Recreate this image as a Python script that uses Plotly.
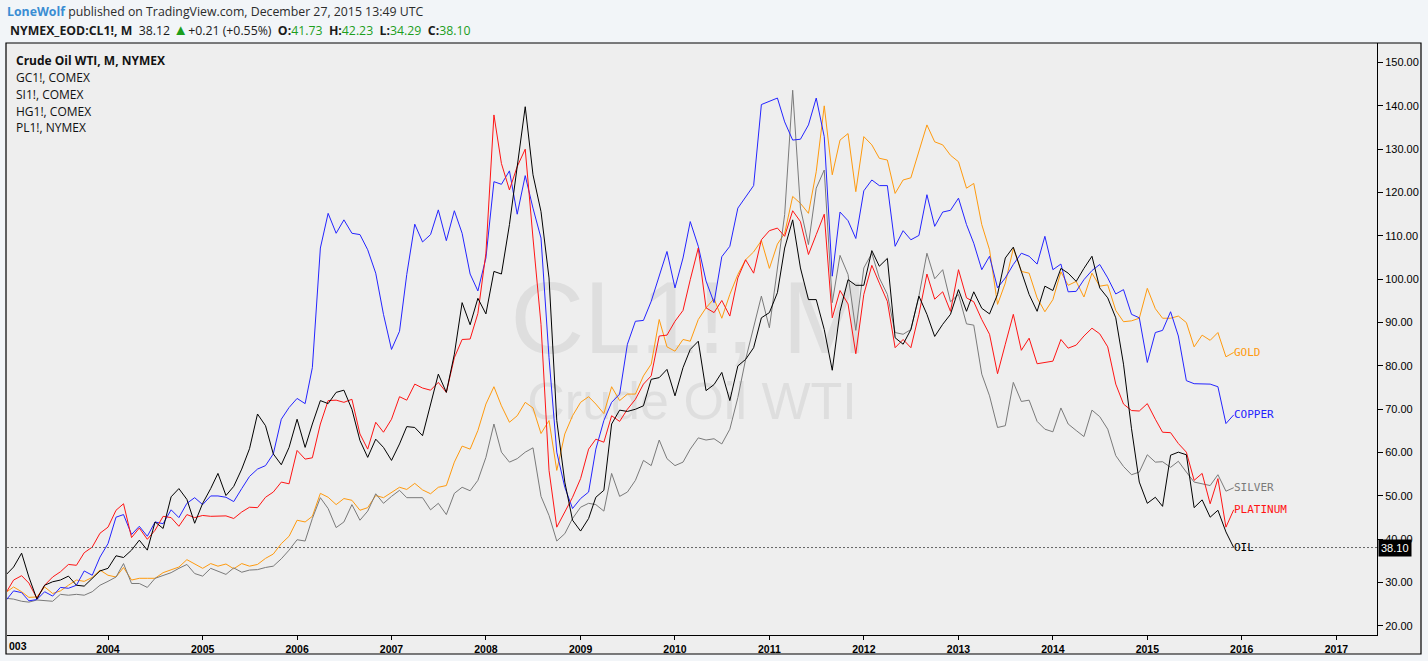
import pandas as pd
import plotly.graph_objects as go

months = pd.date_range("2002-12-01", "2015-12-01", freq="MS")

oil = [31.7,
       33.6, 36.8, 31.3, 26.2, 29.4, 30.2, 30.6, 31.5, 29.4, 29.2, 31.0, 32.7,
       33.3, 36.2, 35.8, 37.5, 39.8, 37.5, 44.0, 42.5, 49.8, 51.7, 49.2, 43.7,
       48.3, 51.7, 55.2, 50.1, 52.2, 56.2, 60.9, 68.9, 66.2, 59.7, 57.2, 61.2,
       67.7, 61.2, 66.6, 72.0, 71.3, 73.9, 74.4, 70.0, 62.8, 58.9, 63.1, 61.2,
       58.2, 62.0, 66.0, 65.8, 63.9, 70.8, 78.1, 73.9, 82.7, 94.6, 89.5, 95.6,
       92.0, 101.8, 101.2, 112.6, 126.4, 139.8, 124.1, 115.6, 100.3, 67.4, 53.2, 44.4,
       41.9, 44.8, 49.7, 51.3, 66.6, 69.8, 69.5, 70.0, 70.8, 76.9, 77.3, 79.2,
       73.1, 79.6, 83.8, 85.7, 74.3, 75.7, 78.5, 72.0, 80.0, 81.5, 84.2, 91.1,
       92.3, 96.9, 107.2, 113.7, 102.6, 95.3, 95.3, 88.4, 79.0, 92.6, 99.9, 98.6,
       98.6, 106.6, 103.0, 104.8, 86.5, 85.0, 88.4, 96.1, 91.9, 86.8, 89.6, 91.9,
       97.6, 92.6, 97.1, 93.3, 92.0, 96.5, 104.9, 107.4, 101.8, 96.5, 92.6, 98.4,
       97.4, 102.5, 101.4, 99.5, 102.5, 105.3, 98.0, 95.7, 91.1, 80.4, 65.5, 53.2,
       48.3, 49.7, 47.6, 59.4, 60.1, 59.5, 47.3, 49.1, 45.1, 46.7, 41.7, 38.1]

platinum = [27.5,
            30.6, 31.6, 29.9, 26.4, 29.4, 31.3, 32.5, 34.2, 34.0, 36.9, 38.2, 41.4,
            42.8, 46.7, 48.2, 40.4, 42.6, 40.0, 42.1, 45.3, 45.0, 43.0, 45.7, 45.0,
            45.5, 45.3, 45.4, 45.4, 44.8, 46.3, 47.4, 47.3, 49.7, 50.9, 53.2, 52.8,
            60.5, 58.5, 58.8, 66.6, 72.0, 72.1, 71.6, 72.3, 64.3, 60.8, 67.0, 64.7,
            67.7, 72.9, 72.1, 75.8, 74.9, 74.4, 76.2, 73.9, 81.9, 86.1, 86.2, 92.1,
            106.0, 137.9, 126.7, 120.6, 126.0, 130.0, 109.5, 89.6, 55.9, 42.8, 46.3, 49.7,
            54.0, 60.8, 63.1, 62.4, 68.5, 67.2, 70.0, 72.3, 75.8, 77.7, 86.9, 87.1,
            90.3, 92.8, 99.9, 107.2, 93.4, 92.3, 95.1, 91.5, 100.3, 104.5, 101.4, 109.1,
            111.2, 111.8, 109.9, 115.8, 113.3, 105.7, 110.3, 115.0, 91.1, 97.4, 94.3, 82.8,
            96.5, 103.2, 99.1, 94.9, 84.2, 86.1, 84.2, 91.9, 101.2, 95.4, 97.1, 92.6,
            102.2, 95.7, 94.8, 90.7, 87.3, 78.2, 85.0, 91.9, 83.6, 86.4, 80.5, 80.8,
            81.1, 86.1, 84.1, 84.8, 86.9, 88.7, 87.4, 84.4, 75.8, 71.2, 69.7, 69.6,
            71.3, 67.7, 64.7, 64.6, 62.1, 60.1, 53.6, 55.2, 48.2, 54.0, 42.8, 46.8]

copper = [25.8,
          28.1, 27.7, 25.8, 26.1, 27.9, 26.9, 28.9, 28.7, 29.4, 32.7, 31.7, 35.9,
          39.0, 45.1, 45.7, 41.1, 43.0, 40.7, 44.0, 43.6, 46.8, 45.0, 48.3, 49.6,
          48.0, 50.0, 50.0, 49.7, 48.7, 51.7, 54.5, 56.2, 57.0, 59.7, 67.7, 70.4,
          72.5, 71.3, 79.6, 107.2, 115.2, 110.6, 113.7, 110.6, 110.3, 106.8, 101.4, 91.9,
          83.8, 88.0, 101.1, 112.7, 108.6, 110.3, 116.0, 108.9, 115.8, 110.6, 101.2, 97.3,
          104.9, 122.5, 121.9, 125.0, 115.0, 123.9, 116.4, 109.5, 81.9, 60.1, 52.0, 47.1,
          49.4, 50.9, 60.8, 67.4, 71.6, 73.5, 85.0, 90.3, 90.5, 94.9, 100.7, 106.4,
          98.0, 104.9, 113.3, 107.6, 99.6, 94.6, 105.2, 107.6, 116.4, 118.9, 121.6, 140.3,
          141.1, 141.8, 136.3, 132.1, 132.3, 135.6, 141.8, 132.9, 100.7, 115.5, 113.5, 109.4,
          120.4, 122.9, 121.6, 121.6, 107.6, 111.2, 109.1, 110.1, 119.5, 112.2, 115.5, 115.9,
          118.7, 112.6, 108.3, 102.2, 105.3, 98.0, 100.3, 103.4, 106.0, 105.3, 103.5, 109.9,
          102.2, 103.5, 97.1, 97.2, 99.9, 102.0, 103.4, 100.3, 96.6, 97.6, 91.9, 91.1,
          80.8, 87.7, 88.2, 92.5, 86.9, 76.6, 75.9, 75.8, 75.8, 75.2, 66.7, 68.7]

gold = [27.7,
        29.0, 27.9, 26.6, 26.7, 29.0, 27.5, 28.1, 29.4, 30.6, 30.3, 31.2, 32.9,
        31.7, 31.3, 33.5, 30.6, 31.0, 31.0, 31.0, 32.3, 33.0, 33.6, 35.3, 34.4,
        33.3, 34.4, 33.8, 34.3, 33.2, 34.4, 33.8, 34.2, 35.6, 36.6, 39.0, 40.7,
        44.4, 44.0, 45.3, 50.6, 49.7, 48.0, 49.4, 49.0, 46.7, 47.3, 50.1, 49.6,
        50.9, 52.0, 51.5, 52.9, 51.4, 50.5, 52.0, 52.4, 57.8, 61.5, 60.8, 65.1,
        71.2, 75.2, 70.8, 67.0, 68.5, 71.6, 70.3, 64.4, 67.4, 55.9, 64.3, 68.5,
        71.6, 72.9, 71.2, 69.0, 75.2, 72.0, 73.5, 73.5, 77.7, 80.4, 90.7, 84.4,
        83.4, 86.1, 85.7, 90.7, 93.4, 95.5, 91.0, 96.5, 101.1, 104.5, 106.3, 108.9,
        102.5, 108.1, 110.6, 119.1, 117.5, 115.2, 124.8, 140.0, 124.1, 132.1, 133.6, 120.2,
        132.9, 131.0, 127.9, 127.5, 119.8, 122.9, 123.4, 129.4, 135.6, 131.7, 131.0, 128.6,
        127.1, 121.0, 122.1, 112.6, 106.8, 94.2, 99.1, 107.1, 101.8, 101.4, 95.7, 92.5,
        95.3, 101.7, 98.6, 99.5, 95.9, 101.4, 98.4, 98.7, 92.8, 90.2, 90.4, 91.0,
        97.9, 93.2, 91.0, 91.0, 91.5, 90.0, 84.4, 87.1, 85.9, 87.7, 82.1, 83.1]

silver = [26.4,
          26.2, 25.7, 25.5, 26.0, 25.8, 25.7, 27.3, 27.1, 27.3, 27.1, 27.9, 29.4,
          30.3, 31.3, 34.4, 29.8, 29.8, 28.9, 31.0, 31.7, 32.3, 33.3, 34.2, 32.1,
          31.5, 33.3, 32.7, 31.9, 33.4, 32.4, 32.9, 33.0, 33.5, 33.8, 35.5, 37.5,
          39.9, 39.6, 44.8, 49.6, 47.1, 42.7, 44.0, 48.0, 44.4, 46.5, 50.5, 48.3,
          49.9, 51.3, 49.6, 49.6, 49.6, 46.8, 48.3, 45.7, 50.6, 52.0, 51.2, 53.6,
          58.9, 66.6, 60.1, 57.8, 58.6, 60.1, 61.1, 49.9, 45.5, 39.6, 41.3, 44.8,
          47.4, 48.3, 48.0, 46.5, 55.2, 49.9, 50.9, 53.6, 58.2, 57.0, 62.9, 58.6,
          57.0, 57.8, 60.8, 63.4, 62.9, 63.2, 62.0, 65.4, 72.7, 81.5, 89.2, 96.1,
          88.8, 103.0, 114.9, 143.6, 116.4, 108.0, 121.0, 125.2, 94.6, 105.5, 101.1, 88.2,
          102.6, 106.0, 100.3, 96.5, 87.7, 87.3, 88.4, 96.1, 106.0, 100.1, 102.2, 94.8,
          96.5, 89.7, 89.4, 78.1, 73.1, 65.8, 66.2, 76.2, 71.8, 72.1, 67.2, 65.4,
          64.8, 70.3, 66.6, 65.1, 63.7, 69.8, 68.3, 65.4, 59.3, 56.8, 54.9, 55.5,
          59.5, 57.8, 57.9, 56.6, 58.0, 55.5, 53.2, 52.8, 52.4, 54.9, 51.1, 51.9]

names = ["GOLD", "SILVER", "COPPER", "PLATINUM", "OIL"]
values = [gold, silver, copper, platinum, oil]
colors = ["#ff9a0e", "#7a7a7a", "#2424ff", "#ff1414", "#000000"]

price_ticks = [20, 30, 40, 50, 60, 70, 80, 90, 100, 110, 120, 130, 140, 150]
year_labels = ["2003", "2004", "2005", "2006", "2007", "2008", "2009", "2010",
               "2011", "2012", "2013", "2014", "2015", "2016", "2017"]
legend_lines = ["Crude Oil WTI, M, NYMEX", "GC1!, COMEX", "SI1!, COMEX",
                "HG1!, COMEX", "PL1!, NYMEX"]
last_price = 38.10

# page geometry (pixels) of the plot box
W, H = 1428, 661
L, R, T, B = 7, 1377, 43, 635


def px(x):
    return (x - L) / (R - L)


def py(y):
    return (B - y) / (B - T)


fig = go.Figure()

for name, vals, col in zip(names, values, colors):
    fig.add_trace(go.Scatter(x=months, y=vals, mode="lines", name=name,
                             line=dict(color=col, width=1), showlegend=False))
    fig.add_annotation(x=months[-1], y=vals[-1], text=name, showarrow=False,
                       xanchor="left", yanchor="middle", xshift=-2,
                       font=dict(family="DejaVu Sans Mono", size=11, color=col))

# frame, watermark and the last price line
fig.add_shape(type="rect", xref="paper", yref="paper", layer="below",
              x0=px(6), x1=px(1421), y0=py(654), y1=py(43),
              fillcolor="#eeeeee", line=dict(color="black", width=1.2))
fig.add_shape(type="rect", xref="paper", yref="paper", layer="below",
              x0=px(439), x1=px(939), y0=py(358), y1=py(258),
              line=dict(width=0), fillcolor="rgba(0,0,0,0)",
              label=dict(text="CL1!, M", textposition="middle center",
                         font=dict(family="Liberation Sans", size=102, color="#dedede")))
fig.add_shape(type="rect", xref="paper", yref="paper", layer="below",
              x0=px(442), x1=px(942), y0=py(426), y1=py(366),
              line=dict(width=0), fillcolor="rgba(0,0,0,0)",
              label=dict(text="Crude Oil WTI", textposition="middle center",
                         font=dict(family="Liberation Sans", size=52, color="#dedede")))
fig.add_shape(type="line", xref="paper", yref="y", x0=0, x1=1,
              y0=last_price, y1=last_price,
              line=dict(color="#666666", width=1, dash="2px,2px"))

# header lines
fig.add_annotation(xref="paper", yref="paper", x=px(5), y=py(12),
                   xanchor="left", yanchor="middle", showarrow=False,
                   text="<span style='color:#3a8dd3'><b>LoneWolf</b></span> published on "
                        "TradingView.com, December 27, 2015 13:49 UTC",
                   font=dict(family="Open Sans", size=12.3, color="#2b2b2b"))
green = "#1c9e1c"
fig.add_annotation(xref="paper", yref="paper", x=px(8), y=py(29),
                   xanchor="left", yanchor="middle", showarrow=False,
                   text=f"<b>NYMEX_EOD:CL1!, M</b>  38.12 "
                        f"<span style='color:{green};font-size:15px'>▲</span>"
                        f"+0.21 (+0.55%)  <b>O:</b><span style='color:{green}'>41.73</span>  "
                        f"<b>H:</b><span style='color:{green}'>42.23</span>  "
                        f"<b>L:</b><span style='color:{green}'>34.29</span>  "
                        f"<b>C:</b><span style='color:{green}'>38.10</span>",
                   font=dict(family="Open Sans", size=12.3, color="#1a1a1a"))

for k, line in enumerate(legend_lines):
    fig.add_annotation(xref="paper", yref="paper", x=px(14), y=py(61 + 16.7 * k),
                       xanchor="left", yanchor="middle", showarrow=False,
                       text=f"<b>{line}</b>" if k == 0 else line,
                       font=dict(family="Open Sans", size=12, color="#111111"))

# clipped first year label and the last price tag
fig.add_annotation(xref="paper", yref="paper", x=px(7), y=py(646),
                   xanchor="left", yanchor="middle", showarrow=False,
                   text=year_labels[0][1:],
                   font=dict(family="Liberation Sans", size=10.5, color="black", weight="bold"))
fig.add_annotation(xref="paper", yref="y", x=px(1378), y=last_price,
                   xanchor="left", yanchor="middle", showarrow=False,
                   text=f"{last_price:.2f}", bgcolor="black", borderpad=2,
                   font=dict(family="Liberation Sans", size=11, color="white"))

fig.update_layout(
    width=W, height=H,
    margin=dict(l=L, r=W - R, t=T, b=H - B, pad=0, autoexpand=False),
    paper_bgcolor="#f2f5f8", plot_bgcolor="rgba(0,0,0,0)",
    showlegend=False, hovermode=False,
    xaxis=dict(type="date", range=["2002-12-06 12:00", "2017-06-07"],
               showgrid=False, zeroline=False, showline=True, linecolor="black",
               linewidth=1, ticks="outside", ticklen=4, tickcolor="black",
               tickvals=[f"{y}-01-01" for y in year_labels[1:]],
               ticktext=year_labels[1:],
               tickfont=dict(family="Liberation Sans", size=10.5, color="black", weight="bold")),
    yaxis=dict(side="right", range=[17.92, 154.5], showgrid=False, zeroline=False,
               showline=True, linecolor="black", linewidth=1, ticks="outside",
               ticklen=5, tickcolor="black", tickvals=price_ticks,
               ticktext=[f"{v:.2f}" for v in price_ticks],
               tickfont=dict(family="Liberation Sans", size=11, color="black")),
)

fig.write_html("out.html", config={"displayModeBar": False},
               post_script="document.body.style.margin='0';document.body.style.overflow='hidden';")
